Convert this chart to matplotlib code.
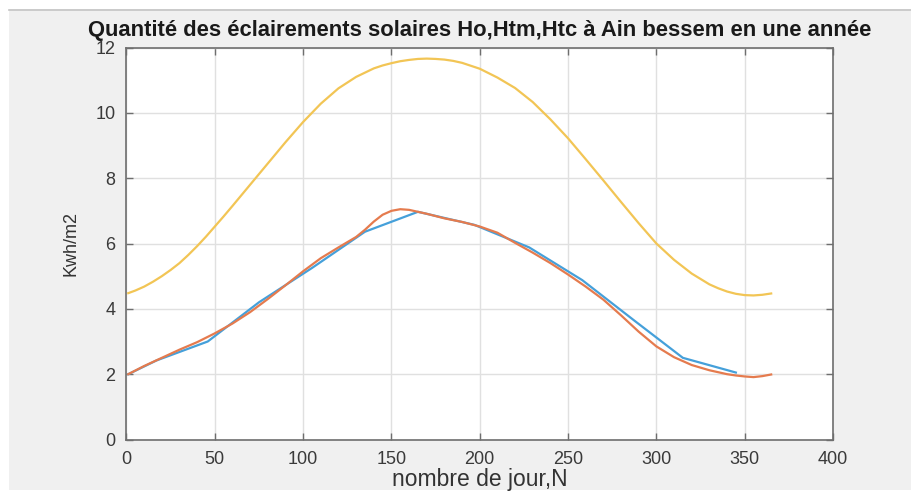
import matplotlib
matplotlib.use("Agg")
import matplotlib.pyplot as plt
from matplotlib.patches import Rectangle
from matplotlib.lines import Line2D

# Extraterrestrial daily irradiation Ho (kWh/m2)
days_ho = [1, 5, 10, 15, 20, 25, 30, 35, 40, 45, 50, 55, 60, 70, 80, 90, 100,
           110, 120, 130, 140, 145, 150, 155, 160, 165, 170, 175, 180, 185, 190,
           200, 210, 220, 230, 240, 250, 260, 270, 280, 290, 300, 310, 320, 330,
           335, 340, 345, 350, 355, 360, 365]
ho = [4.48, 4.56, 4.68, 4.83, 5.00, 5.19, 5.40, 5.65, 5.92, 6.21, 6.52, 6.83,
      7.15, 7.80, 8.45, 9.10, 9.72, 10.28, 10.75, 11.10, 11.36, 11.45, 11.52,
      11.58, 11.62, 11.65, 11.66, 11.65, 11.63, 11.59, 11.53, 11.35, 11.08,
      10.76, 10.33, 9.80, 9.22, 8.58, 7.93, 7.27, 6.62, 6.00, 5.50, 5.08, 4.75,
      4.63, 4.53, 4.46, 4.42, 4.41, 4.43, 4.47]

# Monthly measured irradiation Htm (kWh/m2)
days_htm = [1, 17, 46, 75, 105, 135, 165, 197, 228, 258, 288, 315, 345]
htm = [2.00, 2.42, 3.00, 4.20, 5.25, 6.36, 6.97, 6.57, 5.88, 4.88, 3.62, 2.50, 2.05]

# Computed irradiation Htc (kWh/m2)
days_htc = [1, 10, 20, 30, 40, 50, 60, 70, 80, 90, 100, 110, 120, 130, 135,
            140, 145, 150, 155, 160, 165, 170, 180, 190, 200, 210, 220, 230,
            240, 250, 260, 270, 280, 290, 300, 310, 320, 330, 340, 345, 350,
            355, 360, 365]
htc = [2.00, 2.25, 2.50, 2.75, 2.98, 3.25, 3.55, 3.90, 4.30, 4.72, 5.15, 5.55,
       5.88, 6.20, 6.42, 6.67, 6.88, 7.00, 7.05, 7.03, 6.97, 6.91, 6.77, 6.66,
       6.52, 6.33, 6.02, 5.72, 5.40, 5.05, 4.68, 4.28, 3.80, 3.30, 2.85, 2.52,
       2.28, 2.12, 2.00, 1.96, 1.93, 1.91, 1.94, 1.99]

x_ticks = [0, 50, 100, 150, 200, 250, 300, 350, 400]
y_ticks = [0, 2, 4, 6, 8, 10, 12]

title = "Quantité des éclairements solaires Ho,Htm,Htc à Ain bessem en une année"
x_label = "nombre de jour,N"
y_label = "Kwh/m2"

plt.rcParams["font.family"] = ["Liberation Sans", "DejaVu Sans"]

W, H = 912, 491
fig = plt.figure(figsize=(W / 100, H / 100), dpi=100, facecolor="white")

# grey window background with a thin rule along its top edge
fig.patches.append(Rectangle((9 / W, 1 / H), 1 - 9 / W, 1 - 10 / H,
                             transform=fig.transFigure, facecolor="#f0f0f0",
                             edgecolor="none", zorder=-10))
fig.lines.append(Line2D([9 / W, 1], [1 - 9.5 / H, 1 - 9.5 / H],
                        transform=fig.transFigure, color="#c4c4c4", lw=1.2))

left, right, top, bottom = 126.5, 833, 47.5, 439.5
ax = fig.add_axes([left / W, 1 - bottom / H, (right - left) / W, (bottom - top) / H])
ax.set_facecolor("white")

ax.plot(days_htm, htm, color="#45a0da", lw=1.6, zorder=3)
ax.plot(days_htc, htc, color="#e57b4e", lw=1.6, zorder=4)
ax.plot(days_ho, ho, color="#f2c555", lw=1.6, zorder=3)

ax.set_xlim(0, 400)
ax.set_ylim(0, 12)
ax.set_xticks(x_ticks)
ax.set_yticks(y_ticks)

ax.grid(True, color="#e0e0e0", lw=1.0)
ax.set_axisbelow(True)

for s in ax.spines.values():
    s.set_color("#6e6e6e")
    s.set_linewidth(1.2)

ax.tick_params(direction="in", length=5, width=1.0, color="#6e6e6e",
               top=True, right=True, labelsize=13, labelcolor="#3a3a3a")
ax.tick_params(axis="x", pad=8)
ax.tick_params(axis="y", pad=8)

ax.set_xlabel(x_label, fontsize=16.5, color="#333333", labelpad=0)
ax.set_ylabel(y_label, fontsize=13, color="#333333", labelpad=11)
ax.set_title(title, fontsize=15.8, fontweight="bold", color="#1a1a1a", pad=8.5)

fig.savefig("out.png", dpi=100, facecolor=fig.get_facecolor())
